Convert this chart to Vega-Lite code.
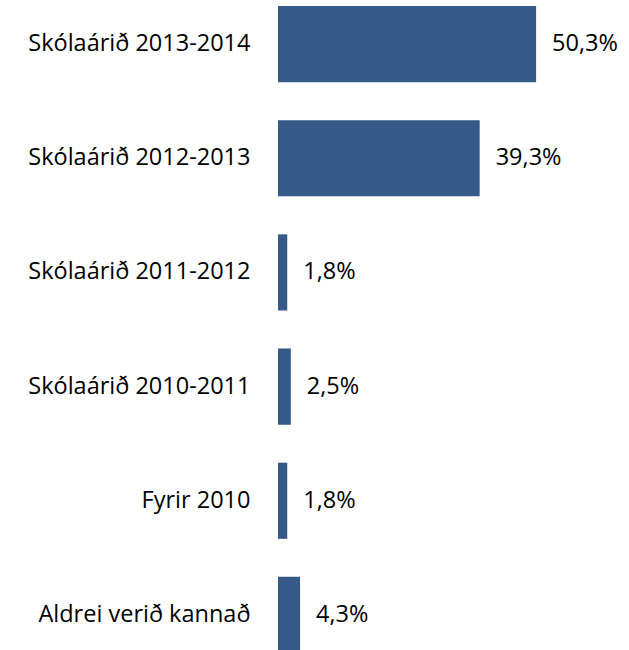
{
  "$schema": "https://vega.github.io/schema/vega-lite/v6.json",
  "autosize": "none",
  "padding": {"left": 278, "top": 0, "right": 0, "bottom": 0},
  "width": 351,
  "height": 659,
  "background": "white",
  "config": {
    "view": {"stroke": null},
    "locale": {"number": {"decimal": ",", "thousands": ".", "grouping": [3], "currency": ["", " kr"]}}
  },
  "data": {"values": [
    {"period": "Skólaárið 2013-2014", "share": 0.503},
    {"period": "Skólaárið 2012-2013", "share": 0.393},
    {"period": "Skólaárið 2011-2012", "share": 0.018},
    {"period": "Skólaárið 2010-2011", "share": 0.025},
    {"period": "Fyrir 2010", "share": 0.018},
    {"period": "Aldrei verið kannað", "share": 0.043}
  ]},
  "encoding": {
    "y": {
      "field": "period", "type": "nominal", "sort": null,
      "scale": {"paddingInner": 0.333, "paddingOuter": 0.0525},
      "axis": {"title": null, "domain": false, "ticks": false, "labelPadding": 28, "labelFont": "Open Sans", "labelFontSize": 23.5, "labelColor": "#000000", "labelFontWeight": "normal", "labelLimit": 400}
    },
    "x": {
      "field": "share", "type": "quantitative",
      "scale": {"domain": [0, 0.684], "nice": false, "zero": true},
      "axis": null
    }
  },
  "layer": [
    {"mark": {"type": "bar", "color": "#355A88"}},
    {"mark": {"type": "text", "align": "left", "baseline": "middle", "dx": 16, "font": "Open Sans", "fontSize": 23.5, "color": "#000000"},
     "encoding": {"text": {"field": "share", "type": "quantitative", "format": ".1%"}}}
  ]
}
